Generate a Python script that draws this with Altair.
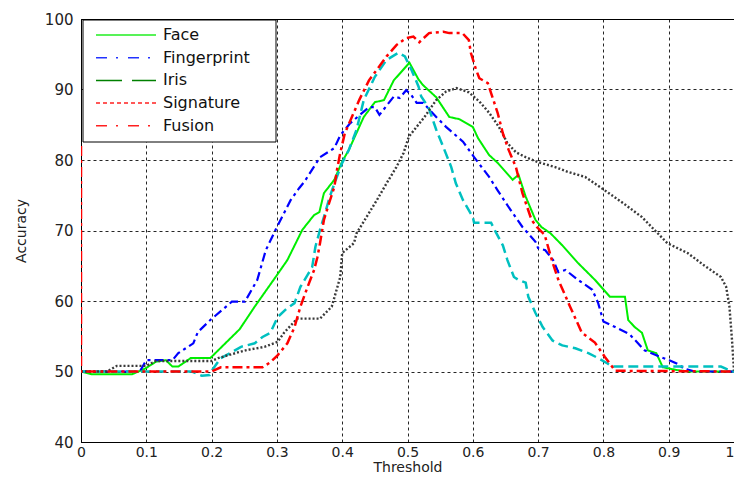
import altair as alt
import pandas as pd

# ---------------- data ----------------
x_ticks = [0, 0.1, 0.2, 0.3, 0.4, 0.5, 0.6, 0.7, 0.8, 0.9, 1]
y_ticks = [40, 50, 60, 70, 80, 90, 100]

names = ["Face", "Fingerprint", "Iris", "Signature", "Fusion"]

face_t = [0, 0.017, 0.078, 0.098, 0.115, 0.13, 0.14, 0.149, 0.168, 0.198, 0.243, 0.266, 0.298, 0.316,
          0.339, 0.357, 0.365, 0.372, 0.388, 0.4, 0.41, 0.433, 0.45, 0.464, 0.479, 0.503, 0.517, 0.524,
          0.544, 0.564, 0.579, 0.6, 0.608, 0.625, 0.638, 0.661, 0.67, 0.681, 0.696, 0.705, 0.719, 0.737,
          0.761, 0.787, 0.81, 0.833, 0.838, 0.848, 0.859, 0.868, 0.881, 0.891, 0.913, 0.93, 1.0]
face_v = [50, 49.6, 49.6, 50.4, 51.4, 51.6, 50.7, 50.7, 51.9, 51.9, 56.0, 59.2, 63.4, 65.8,
          70.1, 72.2, 72.6, 75.3, 77.2, 79.8, 81.4, 86.1, 88.2, 88.5, 91.3, 93.8, 91.4, 90.6,
          88.9, 86.1, 85.8, 84.7, 83.1, 80.7, 79.6, 77.2, 77.9, 74.8, 71.5, 70.5, 69.6, 67.9,
          65.4, 63.0, 60.6, 60.6, 57.3, 56.3, 55.5, 53.0, 52.6, 50.6, 50.2, 50, 50]

finger_t = [0, 0.09, 0.1, 0.14, 0.149, 0.172, 0.179, 0.198, 0.231, 0.251, 0.27, 0.283, 0.298, 0.321,
            0.334, 0.342, 0.366, 0.388, 0.397, 0.412, 0.441, 0.45, 0.457, 0.479, 0.488, 0.498, 0.506,
            0.514, 0.524, 0.544, 0.559, 0.585, 0.602, 0.625, 0.638, 0.655, 0.676, 0.696, 0.7, 0.711,
            0.723, 0.731, 0.742, 0.761, 0.783, 0.792, 0.8, 0.818, 0.84, 0.863, 0.889, 0.901, 0.913,
            0.924, 0.94, 1.0]
finger_v = [50, 50, 51.6, 51.6, 52.6, 54.0, 55.6, 57.3, 59.9, 59.9, 63.0, 67.2, 70.1, 74.3,
            76.0, 76.9, 80.4, 81.7, 83.5, 85.2, 87.5, 87.5, 86.4, 89.0, 88.8, 89.9, 89.2,
            88.1, 88.1, 86.1, 84.7, 82.6, 80.4, 77.6, 75.7, 73.3, 70.5, 68.4, 67.5, 67.2,
            65.8, 64.1, 64.4, 63.0, 61.6, 59.7, 57.1, 56.3, 55.3, 53.0, 52.0, 51.6, 51.1,
            50.4, 50, 50]

iris_t = [0, 0.17, 0.185, 0.197, 0.2, 0.214, 0.228, 0.245, 0.266, 0.278, 0.29, 0.301, 0.316, 0.327,
          0.336, 0.347, 0.354, 0.359, 0.366, 0.372, 0.381, 0.389, 0.4, 0.41, 0.422, 0.433, 0.45,
          0.468, 0.486, 0.496, 0.506, 0.517, 0.521, 0.532, 0.544, 0.555, 0.567, 0.574, 0.585, 0.6,
          0.602, 0.628, 0.635, 0.646, 0.653, 0.663, 0.67, 0.681, 0.685, 0.696, 0.707, 0.722, 0.737,
          0.757, 0.777, 0.792, 0.807, 0.813, 0.98, 0.99, 1.0]
iris_v = [50, 50, 49.4, 49.5, 50.1, 51.9, 52.6, 53.5, 54.0, 54.9, 55.5, 57.7, 59.0, 59.7,
          62.0, 63.7, 64.8, 67.7, 70.1, 71.9, 74.8, 76.9, 79.6, 81.4, 84.3, 88.5, 91.8,
          94.2, 95.2, 94.7, 92.8, 90.4, 89.0, 87.5, 84.3, 81.8, 79.0, 76.7, 74.3, 71.9,
          71.1, 71.1, 69.8, 67.9, 65.8, 63.4, 63.0, 62.6, 60.6, 58.3, 56.3, 54.4, 53.7,
          53.3, 52.6, 51.9, 51.1, 50.7, 50.7, 50.3, 50]

sig_t = [0, 0.04, 0.055, 0.1, 0.115, 0.2, 0.21, 0.24, 0.252, 0.281, 0.301, 0.311, 0.331, 0.366,
         0.384, 0.397, 0.4, 0.418, 0.422, 0.453, 0.468, 0.483, 0.494, 0.502, 0.514, 0.526, 0.544,
         0.559, 0.575, 0.594, 0.61, 0.625, 0.64, 0.653, 0.666, 0.681, 0.7, 0.726, 0.746, 0.772,
         0.802, 0.83, 0.859, 0.878, 0.898, 0.929, 0.955, 0.98, 0.988, 0.993, 0.997, 1.0]
sig_v = [50, 50, 50.8, 50.8, 51.5, 51.5, 51.9, 52.7, 53.0, 53.5, 54.2, 55.5, 57.5, 57.5,
         59.2, 63.4, 66.8, 68.2, 69.6, 74.3, 76.7, 79.0, 81.0, 83.3, 84.7, 86.1, 88.5,
         89.7, 90.2, 89.6, 88.3, 86.7, 84.7, 82.4, 81.1, 80.4, 79.7, 79.0, 78.3, 77.6,
         75.7, 73.9, 71.9, 70.1, 68.2, 66.8, 65.0, 63.4, 62.0, 59.2, 54.4, 50.1]

fusion_t = [0, 0, 0.2, 0.214, 0.278, 0.29, 0.301, 0.316, 0.327, 0.336, 0.347, 0.357, 0.362, 0.366,
            0.372, 0.38, 0.388, 0.392, 0.397, 0.404, 0.413, 0.426, 0.441, 0.453, 0.468, 0.483, 0.498,
            0.509, 0.518, 0.533, 0.555, 0.564, 0.584, 0.594, 0.597, 0.605, 0.61, 0.623, 0.628, 0.638,
            0.646, 0.655, 0.666, 0.676, 0.69, 0.698, 0.71, 0.722, 0.731, 0.749, 0.767, 0.787, 0.802,
            0.818, 1.0]
fusion_v = [82, 50, 50, 50.6, 50.6, 51.3, 52.3, 54.0, 56.3, 59.2, 62.0, 64.4, 66.2, 68.2,
            71.5, 73.9, 76.2, 78.6, 81.0, 83.8, 85.7, 88.5, 91.3, 92.8, 94.7, 96.3, 97.3,
            97.5, 96.7, 98.0, 98.2, 98.0, 98.0, 97.0, 95.2, 92.8, 91.6, 90.9, 89.5, 86.7,
            83.8, 81.4, 79.0, 75.3, 71.5, 70.5, 69.4, 65.5, 63.0, 59.2, 55.5, 54.1, 52.1,
            50.1, 50]

# styles
line_colors = ["#00ee00", "#0000ff", "#00c0c0", "#3a3a3a", "#ff0000"]
line_dashes = [[1, 0], [9, 4, 3, 4], [10, 5], [2, 2], [10, 4, 3, 4]]
line_widths = [2, 2.2, 2.5, 2.4, 2.5]
legend_colors = ["#22ee22", "#2233ff", "#008000", "#ff2020", "#ff2020"]
legend_dashes = [[1, 0], [11, 9, 2, 10], [26, 10], [4, 3], [11, 9, 2, 10]]

series = [face_t, finger_t, iris_t, sig_t, fusion_t]
values = [face_v, finger_v, iris_v, sig_v, fusion_v]

rows = []
for name, ts, vs in zip(names, series, values):
    for i, (t, v) in enumerate(zip(ts, vs)):
        rows.append({"name": name, "t": t, "v": v, "i": i})
df = pd.DataFrame(rows)

FONT = "DejaVu Sans"

x_enc = alt.X("t:Q", scale=alt.Scale(domain=[0, 1], nice=False),
              axis=alt.Axis(values=x_ticks, format="~g", title="Threshold", labelFlush=False,
                            labelAlign={"condition": {"test": "datum.value >= 1", "value": "right"},
                                        "value": "center"}))
y_enc = alt.Y("v:Q", scale=alt.Scale(domain=[40, 100], nice=False, zero=False),
              axis=alt.Axis(values=y_ticks, title="Accuracy"))

layers = []
for name, col, dash, w in zip(names, line_colors, line_dashes, line_widths):
    layers.append(
        alt.Chart(df[df["name"] == name]).mark_line(
            color=col, strokeDash=dash, strokeWidth=w, clip=True
        ).encode(x=x_enc, y=y_enc, order="i:Q")
    )

# legend frame
frame = alt.Chart(pd.DataFrame({"k": [0]})).mark_rect(
    fill="#ffffff", stroke="#000000", strokeWidth=1
).encode(x=alt.value(2), x2=alt.value(195), y=alt.value(1), y2=alt.value(123))

# legend-only layer (drawn outside the domain and clipped)
dummy = pd.DataFrame([{"name": n, "t": -1.0 - k * 0.01, "v": 45} for n in names for k in range(2)])
leg = alt.Legend(orient="none", legendX=14, legendY=5)
legend_layer = alt.Chart(dummy).mark_line(clip=True, strokeWidth=1.5).encode(
    x=alt.X("t:Q"),
    y=alt.Y("v:Q"),
    color=alt.Color("name:N", scale=alt.Scale(domain=names, range=legend_colors), title=None, legend=leg),
    strokeDash=alt.StrokeDash("name:N", scale=alt.Scale(domain=names, range=legend_dashes), title=None,
                              legend=leg),
)

chart = alt.layer(*layers, frame, legend_layer).properties(
    width=653, height=423,
    autosize=alt.AutoSizeParams(type="none"),
    padding={"left": 73, "top": 11, "right": 0, "bottom": 32},
).configure_view(
    stroke="#000000", strokeWidth=1
).configure_axis(
    labelFont=FONT, titleFont=FONT,
    labelColor="#222222", titleColor="#222222", titleFontWeight="normal",
    grid=True, gridColor="#000000", gridDash=[3, 3], gridOpacity=0.85, gridWidth=1,
    domainColor="#000000", ticks=False,
).configure_axisX(
    labelFontSize=14, titleFontSize=14, labelPadding=3, titlePadding=1,
).configure_axisY(
    labelFontSize=15, titleFontSize=14, labelPadding=8, titlePadding=16,
).configure_legend(
    symbolType="M-1,0H5", symbolSize=400, symbolStrokeWidth=1.5,
    labelFont=FONT, labelFontSize=16, labelColor="#111111", labelOffset=46,
    padding=0, rowPadding=3.7, strokeColor="transparent", fillColor="transparent",
)

chart.save("out.html", embed_options={"renderer": "svg", "actions": False})
